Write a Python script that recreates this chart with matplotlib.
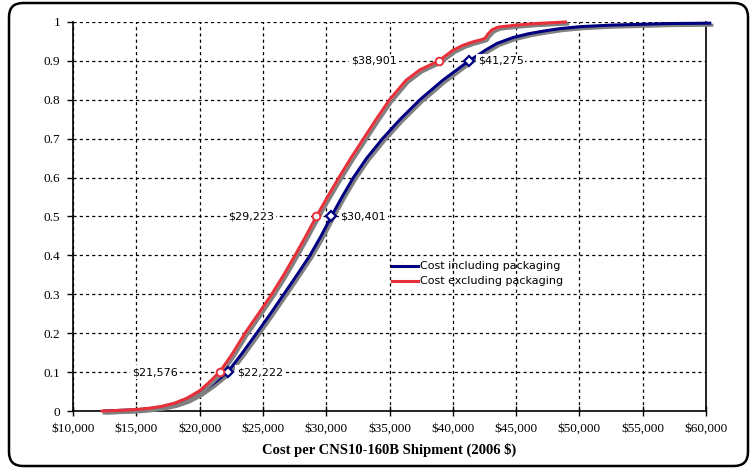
import matplotlib
matplotlib.use("Agg")
import matplotlib.pyplot as plt
import matplotlib.patheffects as pe
from matplotlib.patches import FancyBboxPatch
from matplotlib.transforms import IdentityTransform
from matplotlib.ticker import FuncFormatter

# cumulative distribution of shipment cost
cost_incl = [12500, 14000, 15000, 16000, 17000, 18000, 19000, 20000, 21000, 22222,
             23400, 24510, 25600, 26650, 27700, 28720, 29600, 30401, 31250, 32150,
             33200, 34450, 35850, 37400, 39200, 41275, 42000, 42600, 43500, 44760,
             46000, 47420, 48470, 50050, 52500, 54790, 57000, 60300]
prob_incl = [0, 0.002, 0.003, 0.006, 0.01, 0.017, 0.028, 0.045, 0.068, 0.10,
             0.15, 0.20, 0.25, 0.30, 0.35, 0.40, 0.45, 0.50, 0.55, 0.60,
             0.65, 0.70, 0.75, 0.80, 0.85, 0.90, 0.915, 0.928, 0.945, 0.96,
             0.97, 0.978, 0.983, 0.988, 0.992, 0.994, 0.996, 0.997]

cost_excl = [12300, 14000, 15000, 16000, 17000, 18000, 19000, 20000, 20700, 21576,
             22550, 23586, 24650, 25696, 26650, 27536, 28400, 29223, 30100, 31000,
             31950, 32950, 33950, 35000, 36300, 37400, 38901, 39500, 40000, 40800,
             41500, 42300, 42550, 42750, 43100, 43600, 45000, 46500, 48900]
prob_excl = [0, 0.002, 0.004, 0.007, 0.012, 0.02, 0.033, 0.052, 0.072, 0.10,
             0.145, 0.20, 0.25, 0.30, 0.35, 0.40, 0.45, 0.50, 0.55, 0.60,
             0.65, 0.70, 0.75, 0.80, 0.85, 0.877, 0.90, 0.915, 0.927, 0.94,
             0.948, 0.955, 0.958, 0.968, 0.98, 0.987, 0.992, 0.996, 1.0]

# 10th / 50th / 90th percentile markers
pct_levels = [0.1, 0.5, 0.9]
pct_incl = [22222, 30401, 41275]
pct_excl = [21576, 29223, 38901]

xticks = list(range(10000, 60001, 5000))
yticks = [round(0.1 * i, 1) for i in range(11)]

navy = "#000080"
red = "#E8303A"

fig = plt.figure(figsize=(7.51, 4.69), dpi=100)
ax = fig.add_axes([73 / 751, 58 / 469, 633 / 751, 389 / 469])

shadow = [pe.SimpleLineShadow(offset=(1.5, -1.5), shadow_color="#808080", alpha=1), pe.Normal()]
l1, = ax.plot(cost_incl, prob_incl, color=navy, lw=2.2, clip_on=False, zorder=3,
              path_effects=shadow, label="Cost including packaging")
l2, = ax.plot(cost_excl, prob_excl, color=red, lw=2.2, clip_on=False, zorder=4,
              path_effects=shadow, label="Cost excluding packaging")

ax.plot(pct_incl, pct_levels, ls="none", marker="D", ms=5.5, mfc="white", mec=navy, mew=1.6, zorder=6)
ax.plot(pct_excl, pct_levels, ls="none", marker="o", ms=5.5, mfc="white", mec=red, mew=1.4, zorder=6)

box = dict(boxstyle="square,pad=0.15", fc="white", ec="none")
for c, p in zip(pct_excl, pct_levels):
    ax.annotate(f"${c:,}", (c, p), xytext=(-42, 0), textcoords="offset pixels",
                ha="right", va="center", fontsize=8, family="DejaVu Sans", bbox=box, zorder=5)
for c, p in zip(pct_incl, pct_levels):
    ax.annotate(f"${c:,}", (c, p), xytext=(9, 0), textcoords="offset pixels",
                ha="left", va="center", fontsize=8, family="DejaVu Sans", bbox=box, zorder=5)

ax.set_xlim(10000, 60000)
ax.set_ylim(0, 1)
ax.set_xticks(xticks)
ax.set_yticks(yticks)
ax.xaxis.set_major_formatter(FuncFormatter(lambda v, _: f"${int(v):,}"))
ax.yaxis.set_major_formatter(FuncFormatter(lambda v, _: f"{v:g}"))
ax.tick_params(axis="x", direction="inout", length=7, width=1, labelsize=9.5, pad=5)
ax.tick_params(axis="y", direction="out", length=4, width=1, labelsize=9.5, pad=5)
for lab in ax.get_xticklabels() + ax.get_yticklabels():
    lab.set_family("Liberation Serif")

ax.grid(True, color="black", lw=0.9, ls=(0, (2.5, 2.5)))
ax.set_axisbelow(True)
ax.spines["top"].set_visible(False)
for s in ["left", "bottom", "right"]:
    ax.spines[s].set_linewidth(1.2)

ax.set_xlabel("Cost per CNS10-160B Shipment (2006 $)", family="Liberation Serif",
              fontsize=10.5, fontweight="bold", labelpad=6)

leg = ax.legend(handles=[l1, l2], loc="upper left", bbox_to_anchor=(388 / 751, 1 - 257 / 469),
                bbox_transform=fig.transFigure, frameon=False, fontsize=8,
                handlelength=2.3, handletextpad=0.2, labelspacing=0.45, borderaxespad=0)
for h in leg.get_lines():
    h.set_path_effects([])

# rounded chart-area border
frame = FancyBboxPatch((9, 3), 739, 463, boxstyle="round,pad=0,rounding_size=14",
                       transform=IdentityTransform(), fc="none", ec="black", lw=1.8)
fig.patches.append(frame)

fig.savefig("out.png", dpi=100)
